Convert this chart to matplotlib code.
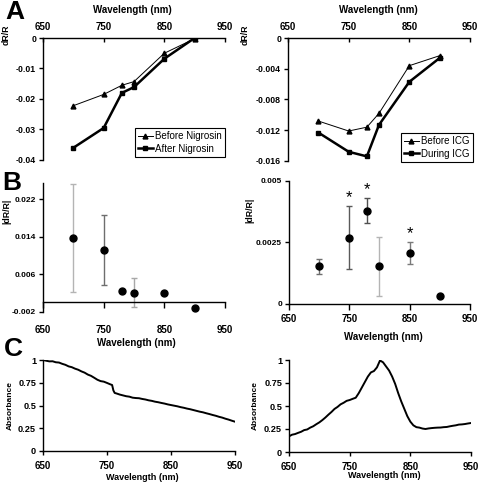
import matplotlib
matplotlib.use("Agg")
import matplotlib.pyplot as plt
import numpy as np

plt.rcParams['font.family'] = ['Liberation Sans', 'DejaVu Sans']
plt.rcParams['axes.unicode_minus'] = False

# ---------------- data ----------------
wl_pts = [700, 750, 780, 800, 850, 900]
before_nig = [-0.0222, -0.0185, -0.0155, -0.0143, -0.0050, -0.0002]
after_nig = [-0.0360, -0.0295, -0.0180, -0.0161, -0.0068, 0.0000]
before_icg = [-0.0108, -0.0121, -0.0116, -0.0098, -0.0036, -0.0023]
during_icg = [-0.0123, -0.0148, -0.0154, -0.0113, -0.0057, -0.0026]

nig_mean = [0.0138, 0.0112, 0.0024, 0.0021, 0.0019, -0.0012]
nig_err = [0.0115, 0.0075, 0.0002, 0.0030, 0.0002, 0.0002]
nig_errcol = ['#b4b4b4', '#6e6e6e', '#888888', '#a8a8a8', '#888888', '#888888']
icg_mean = [0.00152, 0.00268, 0.00377, 0.00152, 0.00207, 0.00034]
icg_err = [0.00031, 0.00128, 0.00051, 0.00118, 0.00044, 0.00002]
icg_errcol = ['#6e6e6e', '#5a5a5a', '#505050', '#b4b4b4', '#7a7a7a', '#888888']
icg_star = [False, True, True, False, True, False]

wl_nig = [650, 655, 660, 665, 670, 675, 680, 685, 690, 695, 700, 705, 710, 715,
          720, 725, 730, 735, 740, 745, 750, 755, 758, 760, 762, 765, 770, 775,
          780, 785, 790, 795, 800, 805, 810, 815, 820, 825, 830, 835, 840, 845,
          850, 855, 860, 865, 870, 875, 880, 885, 890, 895, 900, 905, 910, 915,
          920, 925, 930, 935, 940, 945, 950]
abs_nig = [1.000, 0.992, 0.985, 0.986, 0.975, 0.972, 0.958, 0.947, 0.930, 0.921,
           0.905, 0.893, 0.875, 0.861, 0.840, 0.826, 0.805, 0.783, 0.768, 0.762,
           0.748, 0.733, 0.725, 0.665, 0.638, 0.632, 0.620, 0.611, 0.602, 0.597,
           0.586, 0.582, 0.580, 0.572, 0.566, 0.557, 0.551, 0.542, 0.536, 0.528,
           0.521, 0.512, 0.505, 0.498, 0.491, 0.482, 0.475, 0.466, 0.459, 0.450,
           0.441, 0.432, 0.425, 0.415, 0.406, 0.396, 0.387, 0.376, 0.367, 0.355,
           0.345, 0.333, 0.322]

wl_icg = [650, 655, 660, 665, 670, 675, 680, 685, 690, 695, 700, 705, 710, 715,
          720, 725, 730, 735, 740, 745, 750, 755, 760, 763, 765, 770, 775, 780,
          785, 790, 795, 800, 805, 810, 815, 820, 825, 830, 835, 840, 845, 850,
          855, 860, 865, 870, 875, 880, 885, 890, 895, 900, 905, 910, 915, 920,
          925, 930, 935, 940, 945, 950]
abs_icg = [0.170, 0.188, 0.195, 0.208, 0.220, 0.238, 0.245, 0.265, 0.280, 0.302,
           0.322, 0.347, 0.375, 0.406, 0.435, 0.468, 0.490, 0.518, 0.535, 0.556,
           0.565, 0.578, 0.590, 0.620, 0.640, 0.700, 0.760, 0.820, 0.865, 0.880,
           0.920, 0.995, 0.975, 0.930, 0.885, 0.820, 0.740, 0.640, 0.550, 0.470,
           0.390, 0.330, 0.290, 0.270, 0.265, 0.255, 0.250, 0.256, 0.260, 0.263,
           0.265, 0.266, 0.270, 0.272, 0.279, 0.285, 0.290, 0.298, 0.300, 0.304,
           0.310, 0.315]

xticks = [650, 750, 850, 950]

W, H = 480, 482
fig = plt.figure(figsize=(W / 100, H / 100), dpi=100)


def px_axes(x0, x1, ytop, ybot):
    return fig.add_axes([x0 / W, 1 - ybot / H, (x1 - x0) / W, (ybot - ytop) / H])


def ftext(x, y, s, **kw):
    fig.text(x / W, 1 - y / H, s, **kw)


def style_common(ax):
    ax.spines['right'].set_visible(False)
    for s in ax.spines.values():
        s.set_linewidth(1.0)
    ax.set_xlim(650, 950)
    ax.set_xticks(xticks)
    ax.set_xticklabels([str(v) for v in xticks], fontsize=7, fontweight='bold')


# ---------------- Panel A ----------------
def panel_a(ax, b, a, yl, yt, ytl, labels, legpos):
    style_common(ax)
    ax.spines['bottom'].set_visible(False)
    ax.xaxis.tick_top()
    ax.tick_params(axis='x', direction='in', length=3, width=1, pad=4)
    ax.tick_params(axis='y', direction='out', length=3, width=1, pad=2)
    ax.set_ylim(*yl)
    ax.set_yticks(yt)
    ax.set_yticklabels(ytl, fontsize=6.3, fontweight='bold')
    ax.plot(wl_pts, b, color='black', lw=0.7, marker='^', ms=3.5, label=labels[0])
    ax.plot(wl_pts, a, color='black', lw=1.8, marker='s', ms=3.5, label=labels[1])
    leg = ax.legend(loc='upper left', bbox_to_anchor=(legpos[0] / W, 1 - legpos[1] / H),
                    bbox_transform=fig.transFigure, borderaxespad=0, fontsize=7,
                    frameon=True, fancybox=False, edgecolor='black', framealpha=1,
                    handlelength=1.5, handletextpad=0.3, borderpad=0.3, labelspacing=0.3)
    leg.get_frame().set_linewidth(0.8)


axA1 = px_axes(43, 225, 38, 160)
panel_a(axA1, before_nig, after_nig, (-0.04, 0), [0, -0.01, -0.02, -0.03, -0.04],
        ['0', '-0.01', '-0.02', '-0.03', '-0.04'], ['Before Nigrosin', 'After Nigrosin'], (135, 128))
axA2 = px_axes(288, 470, 38, 161)
panel_a(axA2, before_icg, during_icg, (-0.016, 0), [0, -0.004, -0.008, -0.012, -0.016],
        ['0', '-0.004', '-0.008', '-0.012', '-0.016'], ['Before ICG', 'During ICG'], (401, 133))

# ---------------- Panel B ----------------
axB1 = px_axes(43, 225, 183, 311.7)
axB1.spines['bottom'].set_position(('data', 0))
style_common(axB1)
axB1.spines['top'].set_visible(False)
axB1.set_ylim(-0.002, 0.0255)
axB1.set_yticks([-0.002, 0.006, 0.014, 0.022])
axB1.set_yticklabels(['-0.002', '0.006', '0.014', '0.022'], fontsize=6, fontweight='bold')
axB1.tick_params(axis='x', direction='out', length=4, width=1, pad=12)
axB1.tick_params(axis='y', direction='out', length=3, width=1, pad=2)
for x, m, e, c in zip(wl_pts, nig_mean, nig_err, nig_errcol):
    axB1.errorbar(x, m, yerr=e, fmt='none', ecolor=c, elinewidth=1.0, capsize=2.2, capthick=1.0)
axB1.plot(wl_pts, nig_mean, 'o', color='black', ms=5, ls='none')

axB2 = px_axes(289, 470, 180.5, 304)
style_common(axB2)
axB2.spines['top'].set_visible(False)
axB2.set_ylim(0, 0.005)
axB2.set_yticks([0, 0.0025, 0.005])
axB2.set_yticklabels(['0', '0.0025', '0.005'], fontsize=6, fontweight='bold')
axB2.tick_params(axis='x', direction='out', length=4, width=1, pad=3)
axB2.tick_params(axis='y', direction='out', length=3, width=1, pad=2)
for x, m, e, c, st in zip(wl_pts, icg_mean, icg_err, icg_errcol, icg_star):
    axB2.errorbar(x, m, yerr=e, fmt='none', ecolor=c, elinewidth=1.0, capsize=2.2, capthick=1.0)
    if st:
        axB2.text(x, m + e + 0.00003, '*', ha='center', va='bottom', fontsize=12)
axB2.plot(wl_pts, icg_mean, 'o', color='black', ms=5, ls='none', clip_on=False)

# ---------------- Panel C ----------------
def panel_c(ax, x, y):
    style_common(ax)
    ax.spines['top'].set_visible(False)
    ax.set_ylim(0, 1)
    ax.set_yticks([0, 0.25, 0.5, 0.75, 1])
    ax.set_yticklabels(['0', '0.25', '0.5', '0.75', '1'], fontsize=6.6, fontweight='bold')
    ax.tick_params(axis='x', direction='out', length=3, width=1, pad=4)
    ax.tick_params(axis='y', direction='out', length=3, width=1, pad=2)
    ax.plot(x, y, color='black', lw=1.4)


axC1 = px_axes(43, 235, 360, 451)
panel_c(axC1, wl_nig, abs_nig)
axC2 = px_axes(289, 471, 360, 452)
panel_c(axC2, wl_icg, abs_icg)

# ---------------- labels ----------------
bold = dict(fontweight='bold', ha='center', va='center')
ftext(132, 10, 'Wavelength (nm)', fontsize=7, **bold)
ftext(378, 10, 'Wavelength (nm)', fontsize=7, **bold)
ftext(136, 342.5, 'Wavelength (nm)', fontsize=7, **bold)
ftext(383, 337, 'Wavelength (nm)', fontsize=7, **bold)
ftext(142, 477, 'Wavelength (nm)', fontsize=6.5, **bold)
ftext(384, 476, 'Wavelength (nm)', fontsize=6.5, **bold)

ftext(6, 35, 'dR/R', fontsize=6.3, rotation=90, **bold)
ftext(245, 35, 'dR/R', fontsize=6.3, rotation=90, **bold)
ftext(7, 211, '|dR/R|', fontsize=6.3, rotation=90, **bold)
ftext(250, 210, '|dR/R|', fontsize=6.3, rotation=90, **bold)
ftext(10, 405, 'Absorbance', fontsize=6, rotation=90, **bold)
ftext(255, 405, 'Absorbance', fontsize=6, rotation=90, **bold)

ftext(15, 12, 'A', fontsize=19, **bold)
ftext(12, 183, 'B', fontsize=19, **bold)
ftext(13, 349, 'C', fontsize=19, **bold)

fig.savefig('out.png', dpi=100)
